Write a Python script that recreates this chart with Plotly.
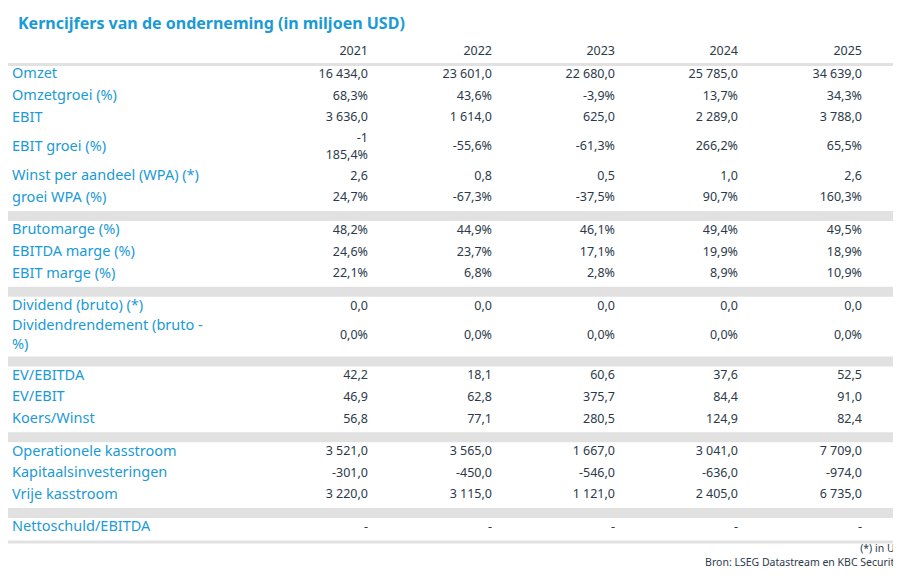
import plotly.graph_objects as go

title = "Kerncijfers van de onderneming (in miljoen USD)"
years = ["2021", "2022", "2023", "2024", "2025"]

# groups of rows, a grey bar between the groups
groups = [
    [
        ("Omzet", ["16 434,0", "23 601,0", "22 680,0", "25 785,0", "34 639,0"]),
        ("Omzetgroei (%)", ["68,3%", "43,6%", "-3,9%", "13,7%", "34,3%"]),
        ("EBIT", ["3 636,0", "1 614,0", "625,0", "2 289,0", "3 788,0"]),
        ("EBIT groei (%)", ["-1<br>185,4%", "-55,6%", "-61,3%", "266,2%", "65,5%"]),
        ("Winst per aandeel (WPA) (*)", ["2,6", "0,8", "0,5", "1,0", "2,6"]),
        ("groei WPA (%)", ["24,7%", "-67,3%", "-37,5%", "90,7%", "160,3%"]),
    ],
    [
        ("Brutomarge (%)", ["48,2%", "44,9%", "46,1%", "49,4%", "49,5%"]),
        ("EBITDA marge (%)", ["24,6%", "23,7%", "17,1%", "19,9%", "18,9%"]),
        ("EBIT marge (%)", ["22,1%", "6,8%", "2,8%", "8,9%", "10,9%"]),
    ],
    [
        ("Dividend (bruto) (*)", ["0,0", "0,0", "0,0", "0,0", "0,0"]),
        ("Dividendrendement (bruto -<br>%)", ["0,0%", "0,0%", "0,0%", "0,0%", "0,0%"]),
    ],
    [
        ("EV/EBITDA", ["42,2", "18,1", "60,6", "37,6", "52,5"]),
        ("EV/EBIT", ["46,9", "62,8", "375,7", "84,4", "91,0"]),
        ("Koers/Winst", ["56,8", "77,1", "280,5", "124,9", "82,4"]),
    ],
    [
        ("Operationele kasstroom", ["3 521,0", "3 565,0", "1 667,0", "3 041,0", "7 709,0"]),
        ("Kapitaalsinvesteringen", ["-301,0", "-450,0", "-546,0", "-636,0", "-974,0"]),
        ("Vrije kasstroom", ["3 220,0", "3 115,0", "1 121,0", "2 405,0", "6 735,0"]),
    ],
    [
        ("Nettoschuld/EBITDA", ["-", "-", "-", "-", "-"]),
    ],
]
footnotes = ["(*) in USD", "Bron: LSEG Datastream en KBC Securities"]

BLUE = "#1a9ad6"
DARK = "#2b3a4a"
GREY = "#e1e1e1"
FONT = "Noto Sans"
PAD = 6  # scatter text sits a few px away from its anchor
col_right = [354 + PAD, 478 + PAD, 601 + PAD, 724 + PAD, 848 + PAD]
ROW_H = 21.6
ROW_H2 = 37
SEP = 11

labels, label_y, cells, cell_y = [], [], [], []
shapes = []
y = 58
for gi, grp in enumerate(groups):
    if gi > 0:
        shapes.append(dict(type="rect", xref="x", yref="y", x0=0, x1=901, y0=y, y1=y + 10,
                           fillcolor=GREY, line_width=0, layer="below"))
        y += SEP
    for name, vals in grp:
        h = ROW_H2 if ("<br>" in name or any("<br>" in v for v in vals)) else ROW_H
        c = y + h / 2
        labels.append(name)
        label_y.append(c - 2)
        cells.append(vals)
        cell_y.append(c - 2)
        y += h
shapes.append(dict(type="rect", x0=0, x1=901, y0=y, y1=y + 3, fillcolor=GREY, line_width=0))
shapes.append(dict(type="rect", x0=0, x1=901, y0=55, y1=58, fillcolor=GREY, line_width=0))

fig = go.Figure()
fig.add_trace(go.Scatter(x=[10 - PAD] * len(labels), y=label_y, text=labels, mode="text",
                         textposition="middle right", hoverinfo="skip", cliponaxis=False,
                         textfont=dict(family=FONT, size=14.5, color=BLUE)))
for j, xr in enumerate(col_right):
    fig.add_trace(go.Scatter(x=[xr] * len(cells), y=cell_y, text=[v[j] for v in cells],
                             mode="text", textposition="middle left", hoverinfo="skip",
                             cliponaxis=False,
                             textfont=dict(family=FONT, size=12.5, color=DARK)))
fig.add_trace(go.Scatter(x=col_right, y=[44] * 5, text=years, mode="text",
                         textposition="middle left", hoverinfo="skip", cliponaxis=False,
                         textfont=dict(family=FONT, size=12.5, color=DARK)))
fig.add_trace(go.Scatter(x=[894 + PAD] * 2, y=[y + 9, y + 23], text=footnotes, mode="text",
                         textposition="middle left", hoverinfo="skip", cliponaxis=False,
                         textfont=dict(family=FONT, size=10.5, color=DARK)))

fig.update_layout(
    width=901, height=585, margin=dict(l=0, r=0, t=0, b=0),
    plot_bgcolor="white", paper_bgcolor="white", showlegend=False,
    xaxis=dict(range=[0, 901], visible=False, fixedrange=True),
    yaxis=dict(range=[585, 0], visible=False, fixedrange=True),
    shapes=shapes,
    annotations=[dict(text="<b>" + title + "</b>", x=8, y=15, xref="x", yref="y",
                      xanchor="left", yanchor="middle", showarrow=False,
                      font=dict(family=FONT, size=16, color=BLUE))],
)
fig.write_html("out.html")
